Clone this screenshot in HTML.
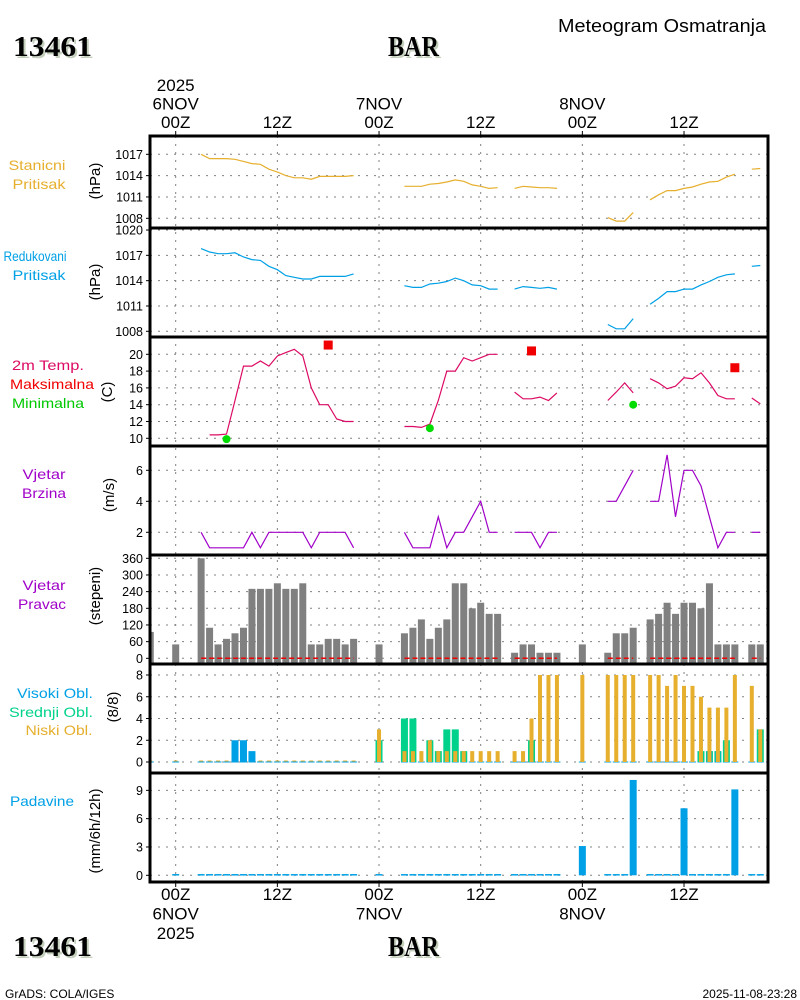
<!DOCTYPE html>
<html><head><meta charset="utf-8"><style>
html,body{margin:0;padding:0;background:#fff;}
svg{display:block;font-family:"Liberation Sans",sans-serif;}
</style></head><body>
<svg id="chart" width="800" height="1000" viewBox="0 0 800 1000" xmlns="http://www.w3.org/2000/svg">
<text x="558" y="32" font-size="18" textLength="208" lengthAdjust="spacingAndGlyphs">Meteogram Osmatranja</text>
<g font-family="Liberation Serif, serif" font-weight="bold" font-size="29">
<text x="15" y="58" fill="#c4d0bc" textLength="79" lengthAdjust="spacingAndGlyphs">13461</text>
<text x="13" y="56" fill="#000" textLength="79" lengthAdjust="spacingAndGlyphs">13461</text>
<text x="390" y="58" fill="#c4d0bc" textLength="51" lengthAdjust="spacingAndGlyphs">BAR</text>
<text x="388" y="56" fill="#000" textLength="51" lengthAdjust="spacingAndGlyphs">BAR</text>
</g>
<g font-family="Liberation Serif, serif" font-weight="bold" font-size="29">
<text x="15" y="958" fill="#c4d0bc" textLength="79" lengthAdjust="spacingAndGlyphs">13461</text>
<text x="13" y="956" fill="#000" textLength="79" lengthAdjust="spacingAndGlyphs">13461</text>
<text x="390" y="958" fill="#c4d0bc" textLength="51" lengthAdjust="spacingAndGlyphs">BAR</text>
<text x="388" y="956" fill="#000" textLength="51" lengthAdjust="spacingAndGlyphs">BAR</text>
</g>
<text x="5" y="998" font-size="12">GrADS: COLA/IGES</text>
<text x="797" y="998" font-size="12" text-anchor="end">2025-11-08-23:28</text>
<g id="plot"></g>
</svg>
<script>
const hours=[-3,0,3,4,5,6,7,8,9,10,11,12,13,14,15,16,17,18,19,20,21,24,27,28,29,30,31,32,33,34,35,36,37,38,40,41,42,43,44,45,48,51,52,53,54,56,57,58,59,60,61,62,63,64,65,66,68,69];
const stPress=[null,null,1017.0,1016.4,1016.4,1016.4,1016.3,1016.0,1015.7,1015.6,1014.9,1014.5,1014.0,1013.7,1013.7,1013.5,1013.9,1013.9,1013.9,1013.9,1014.0,null,1012.5,1012.5,1012.5,1012.8,1012.9,1013.1,1013.4,1013.2,1012.7,1012.5,1012.2,1012.3,1012.2,1012.5,1012.4,1012.3,1012.3,1012.2,null,1008.1,1007.6,1007.6,1008.8,1010.6,1011.3,1011.9,1011.9,1012.2,1012.4,1012.8,1013.1,1013.2,1013.8,1014.2,1014.9,1015.0];
const redPress=[null,null,1017.8,1017.4,1017.2,1017.2,1017.3,1016.8,1016.5,1016.4,1015.7,1015.3,1014.6,1014.4,1014.2,1014.2,1014.5,1014.5,1014.5,1014.5,1014.8,null,1013.4,1013.2,1013.2,1013.6,1013.7,1013.9,1014.3,1014.0,1013.5,1013.4,1013.0,1013.0,1013.0,1013.3,1013.2,1013.1,1013.2,1013.0,null,1008.8,1008.3,1008.3,1009.5,1011.2,1011.9,1012.7,1012.7,1013.0,1013.0,1013.5,1013.9,1014.4,1014.7,1014.8,1015.7,1015.8];
const temp=[null,null,null,10.4,10.4,10.5,14.5,18.6,18.6,19.2,18.6,19.8,20.2,20.6,19.8,16.0,14.0,14.0,12.3,12.0,12.0,null,11.4,11.4,11.3,11.7,14.5,18.0,18.0,19.6,19.2,19.6,20.0,20.0,15.5,14.7,14.7,14.9,14.5,15.4,null,14.5,15.5,16.6,15.4,17.1,16.6,15.9,16.2,17.2,17.1,17.8,16.6,15.1,14.7,14.7,14.8,14.1];
const maxHours=[18,42,66];
const maxTemp=[21.1,20.4,18.4];
const minHours=[6,30,54];
const minTemp=[9.9,11.2,14.0];
const windSpeed=[null,null,2,1,1,1,1,1,2,1,2,2,2,2,2,1,2,2,2,2,1,null,2,1,1,1,3,1,2,2,3,4,2,2,2,2,2,1,2,2,null,4,4,5,6,4,4,7,3,6,6,5,3,1,2,2,2,2];
const windDir=[95,50,360,110,50,70,90,110,250,250,250,270,250,250,270,50,50,70,70,50,70,50,90,110,140,70,110,140,270,270,180,200,160,160,20,50,50,20,20,20,50,20,90,90,110,140,160,200,160,200,200,180,270,50,50,50,50,50];
const cloudHigh=[0,0,0,0,0,0,2,2,1,0,0,0,0,0,0,0,0,0,0,0,0,0,0,0,0,0,0,0,0,0,0,0,0,0,0,0,0,0,0,0,0,0,0,0,0,0,0,0,0,0,0,0,1,1,0,0,0,0];
const cloudMid=[0,0,0,0,0,0,0,0,0,0,0,0,0,0,0,0,0,0,0,0,0,2,4,4,0,2,1,3,3,1,0,0,0,0,0,0,2,0,0,0,0,0,0,0,0,0,0,0,0,0,0,1,1,1,2,0,0,3];
const cloudLow=[0,0,0,0,0,0,0,0,0,0,0,0,0,0,0,0,0,0,0,0,0,3,1,1,1,2,1,1,1,1,1,1,1,1,1,1,4,8,8,8,8,8,8,8,8,8,8,7,8,7,7,6,5,5,5,8,7,3];
const precip=[null,0,0,0,0,0,0,0,0,0,0,0,0,0,0,0,0,0,0,0,0,0,0,0,0,0,0,0,0,0,0,0,0,0,0,0,0,0,0,0,3.1,0,0,0,10.1,0,0,0,0,7.1,0,0,0,0,0,9.1,0,0];
const p1Ticks=[1008,1011,1014,1017];
const p2Ticks=[1008,1011,1014,1017,1020];
const tTicks=[10,12,14,16,18,20];
const wTicks=[2,4,6];
const dTicks=[0,60,120,180,240,300,360];
const cTicks=[0,2,4,6,8];
const rTicks=[0,3,6,9];
const timeTicks=[0,12,24,36,48,60];
const timeTop=[["2025","6NOV","00Z"],["12Z"],["7NOV","00Z"],["12Z"],["8NOV","00Z"],["12Z"]];
const timeBot=[["00Z","6NOV","2025"],["12Z"],["00Z","7NOV"],["12Z"],["00Z","8NOV"],["12Z"]];

const NS="http://www.w3.org/2000/svg";
const plot=document.getElementById('plot');
const L=150,R=768,TOP=136,BOT=882;
const xS=h=>175.7+h*8.472;
const yP1=v=>218.3-(v-1008)*7.11;
const yP2=v=>331.3-(v-1008)*8.44;
const yT=v=>438.3-(v-10)*8.4;
const yW=v=>563.3-v*15.5;
const yD=v=>658.3-v*100/360;
const yC=v=>762-v*10.875;
const yR=v=>875.3-v*9.44;
function mk(tag,attrs,parent){const e=document.createElementNS(NS,tag);for(const k in attrs)e.setAttribute(k,attrs[k]);(parent||plot).appendChild(e);return e;}

const grid=mk('g',{});


timeTicks.forEach(h=>{mk('line',{x1:xS(h),x2:xS(h),y1:TOP,y2:BOT,stroke:'#808080','stroke-width':1,'stroke-dasharray':'2,6'},grid);});
function hgrid(ticks,ys,name){
  const g=mk('g',{});
  
  
  ticks.forEach(t=>{const y=ys(t);
    mk('line',{x1:L,x2:R,y1:y,y2:y,stroke:'#808080','stroke-width':1,'stroke-dasharray':'2,6'},g);
    mk('line',{x1:L-4,x2:L,y1:y,y2:y,stroke:'#000','stroke-width':1},g);
    const tx=mk('text',{x:L-7,y:y+4.5,'font-size':12.5,'text-anchor':'end'},g);tx.textContent=t;});
}
hgrid(p1Ticks,yP1,'y-axis-station-pressure');
hgrid(p2Ticks,yP2,'y-axis-reduced-pressure');
hgrid(tTicks,yT,'y-axis-temperature');
hgrid(wTicks,yW,'y-axis-wind-speed');
hgrid(dTicks,yD,'y-axis-wind-direction');
hgrid(cTicks,yC,'y-axis-clouds');
hgrid(rTicks,yR,'y-axis-precipitation');

timeTicks.forEach((h,i)=>{
  const x=xS(h);
  mk('line',{x1:x,x2:x,y1:TOP-5,y2:TOP,stroke:'#000'});
  mk('line',{x1:x,x2:x,y1:BOT,y2:BOT+5,stroke:'#000'});
  const lt=timeTop[i];
  lt.forEach((s,j)=>{const t=mk('text',{x:x,y:128-(lt.length-1-j)*18.5,'font-size':17,'text-anchor':'middle'});
    
    
    t.textContent=s;});
  timeBot[i].forEach((s,j)=>{const t=mk('text',{x:x,y:900+j*19.5,'font-size':17,'text-anchor':'middle'});
    
    
    t.textContent=s;});
});

function drawLine(vals,ys,color,name){
  const g=mk('g',{});
  
  
  let seg=[];const segs=[];
  for(let i=0;i<hours.length;i++){
    const v=vals[i];
    if(v==null){if(seg.length)segs.push(seg);seg=[];continue;}
    if(seg.length&&hours[i]-seg[seg.length-1][0]>1){segs.push(seg);seg=[];}
    seg.push([hours[i],v]);
  }
  if(seg.length)segs.push(seg);
  segs.forEach(s=>{
    if(s.length<2)return;
    mk('polyline',{points:s.map(p=>xS(p[0]).toFixed(1)+','+ys(p[1]).toFixed(1)).join(' '),fill:'none',stroke:color,'stroke-width':1.2},g);
  });
  return segs;
}
drawLine(stPress,yP1,'#e6af2d','station-pressure-line');
drawLine(redPress,yP2,'#00a0e6','reduced-pressure-line');
drawLine(temp,yT,'#dc0a64','temperature-line');
drawLine(windSpeed,yW,'#a000c8','wind-speed-line');

maxHours.forEach((h,i)=>{const r=mk('rect',{x:xS(h)-4.5,y:yT(maxTemp[i])-4.5,width:9,height:9,fill:'#f00000'});
  
  });
minHours.forEach((h,i)=>{const c=mk('circle',{cx:xS(h),cy:yT(minTemp[i]),r:4,fill:'#00dc00'});
  
  });

const dg=mk('g',{});


hours.forEach((h,i)=>{const v=windDir[i];if(v==null)return;
  let x0=xS(h)-3.5,x1=xS(h)+3.5;x0=Math.max(x0,L+1);
  const b=mk('rect',{x:x0,y:yD(v),width:x1-x0,height:yD(0)-yD(v)+5,fill:'#808080'},dg);
  
  
});
{let run=[];const runs=[];
 hours.forEach((h,i)=>{if(run.length&&h-run[run.length-1]>1){runs.push(run);run=[];}run.push(h);});runs.push(run);
 runs.forEach(r=>{if(r.length<2)return;
   const ln=mk('line',{x1:xS(r[0]),x2:xS(r[r.length-1]),y1:yD(0),y2:yD(0),stroke:'#f00000','stroke-width':1.5,'stroke-dasharray':'5,3'},dg);
   
   });
}

const cg=mk('g',{});


hours.forEach((h,i)=>{const x=xS(h);const b0=yC(0);
  mk('line',{x1:Math.max(x-3.5,L+1),x2:x+3.5,y1:b0,y2:b0,stroke:'#00a0e6','stroke-width':1},cg);
  mk('line',{x1:Math.max(x-2,L+1),x2:x+2,y1:b0-1,y2:b0-1,stroke:'#e6af2d','stroke-width':1},cg);
  const m=cloudMid[i],hi=cloudHigh[i],lo=cloudLow[i];
  if(m>0){const r=mk('rect',{x:x-3.5,y:yC(m),width:7,height:b0-yC(m),fill:'#00d28c'},cg);
    
    }
  if(hi>0){const w=m>0?5:7;const r=mk('rect',{x:x-w/2,y:yC(hi),width:w,height:b0-yC(hi),fill:'#00a0e6'},cg);
    
    }
  if(lo>0){const r=mk('rect',{x:x-2,y:yC(lo),width:4,height:b0-yC(lo),fill:'#e6af2d'},cg);
    
    }
});

const rg=mk('g',{});


hours.forEach((h,i)=>{const v=precip[i];if(v==null)return;const x=xS(h);
  if(v>0){const r=mk('rect',{x:x-3.5,y:yR(v),width:7,height:yR(0)-yR(v),fill:'#00a0e6'},rg);
    
    }
  else mk('line',{x1:x-3.5,x2:x+3.5,y1:yR(0)-0.5,y2:yR(0)-0.5,stroke:'#00a0e6','stroke-width':1.5},rg);
});

const fr=mk('g',{});


mk('rect',{x:L,y:TOP,width:R-L,height:BOT-TOP,fill:'none',stroke:'#000','stroke-width':3},fr);
[228,337,446,555,664,773].forEach(y=>mk('line',{x1:L,x2:R,y1:y,y2:y,stroke:'#000','stroke-width':3},fr));

const labels=[["Stanicni",37,170,'#e6af2d',57],["Pritisak",39,189,'#e6af2d',53],
 ["Redukovani",35,261,'#00a0e6',63],["Pritisak",39,280,'#00a0e6',53],
 ["2m Temp.",48,370,'#dc0a64',72],["Maksimalna",52,389,'#f00000',84],["Minimalna",48,408,'#00c800',72],
 ["Vjetar",44,479,'#a000c8',43],["Brzina",44,498,'#a000c8',44],
 ["Vjetar",44,590,'#a000c8',43],["Pravac",42,609,'#a000c8',48],
 ["Visoki Obl.",55,698,'#00a0e6',76],["Srednji Obl.",51,717,'#00d28c',84],["Niski Obl.",59,735,'#e6af2d',67],
 ["Padavine",42,806,'#00a0e6',64]];
labels.forEach(l=>{const t=mk('text',{x:l[1],y:l[2],'font-size':14,'text-anchor':'middle',fill:l[3],textLength:l[4],lengthAdjust:'spacingAndGlyphs'});
  
  
  t.textContent=l[0];});
const units=[["(hPa)",95,181],["(hPa)",95,282],["(C)",107,392],["(m/s)",109,495],["(stepeni)",95,596],["(8/8)",113,707],["(mm/6h/12h)",95,831]];
units.forEach(u=>{const t=mk('text',{x:u[1]+5,y:u[2],'font-size':15,'text-anchor':'middle',transform:`rotate(-90 ${u[1]+5} ${u[2]})`});
  
  
  t.textContent=u[0];});
</script>
</body></html>
